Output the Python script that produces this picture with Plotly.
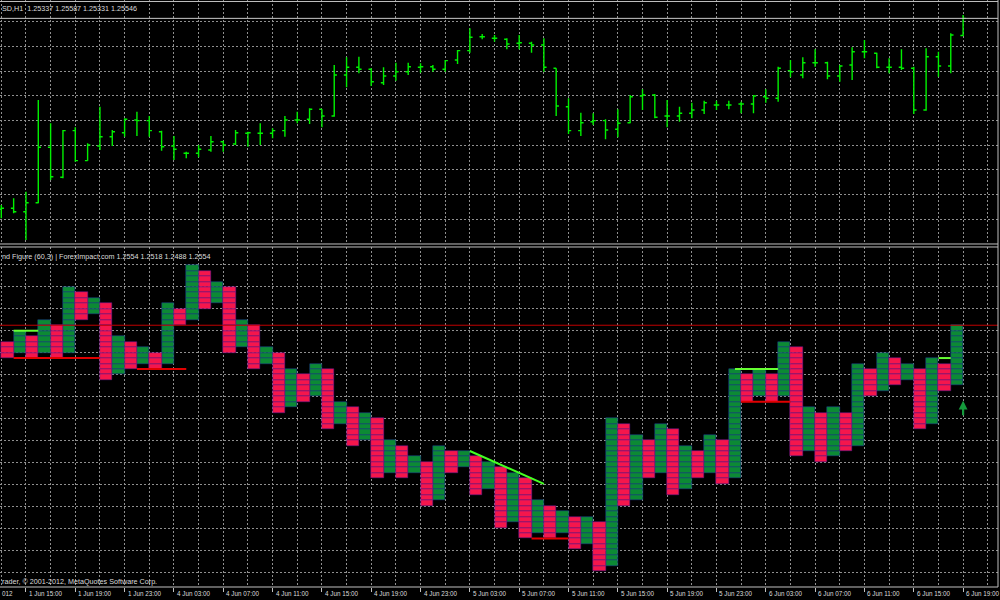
import plotly.graph_objects as go

# ---------------- data: EURUSD H1 bars (top panel) ----------------
days = [("1 Jun", 13, 23), ("4 Jun", 0, 23), ("5 Jun", 0, 23), ("6 Jun", 0, 19)]
bar_time = [f"{d} {h:02d}:00" for d, h0, h1 in days for h in range(h0, h1 + 1)]

bar_open = [1.23217,1.23229,1.23187,1.23297,1.23973,1.23607,1.24176,1.23810,1.23989,1.24102,
 1.24151,1.24306,1.24298,1.24163,1.23989,1.23900,1.23900,1.23940,1.24041,1.24013,
 1.24144,1.24144,1.24144,1.24176,1.24306,1.24315,1.24437,1.24355,1.24855,1.24949,
 1.24925,1.24761,1.24843,1.24895,1.24949,1.24956,1.24925,1.25038,1.25152,1.25322,
 1.25303,1.25291,1.25242,1.25242,1.25221,1.24937,1.24468,1.24176,1.24285,1.24298,
 1.24193,1.24273,1.24599,1.24611,1.24355,1.24355,1.24388,1.24428,1.24489,1.24489,
 1.24501,1.24501,1.24590,1.24571,1.24908,1.24855,1.25005,1.25005,1.24843,1.24977,
 1.25139,1.25120,1.24949,1.24949,1.24937,1.24428,1.25078,1.24965,1.25337]
bar_high = [1.23269,1.23351,1.23431,1.24550,1.24266,1.24184,1.24217,1.24022,1.24468,1.24184,
 1.24327,1.24407,1.24355,1.24176,1.24111,1.23919,1.24001,1.24111,1.24054,1.24184,
 1.24163,1.24266,1.24205,1.24355,1.24407,1.24449,1.24437,1.24977,1.25071,1.25078,
 1.24937,1.24949,1.25005,1.25005,1.24998,1.24977,1.25038,1.25160,1.25425,1.25355,
 1.25343,1.25303,1.25343,1.25261,1.25303,1.24937,1.24571,1.24395,1.24388,1.24315,
 1.24437,1.24611,1.24681,1.24623,1.24550,1.24468,1.24517,1.24542,1.24542,1.24542,
 1.24529,1.24611,1.24681,1.24956,1.25038,1.25071,1.25169,1.25017,1.24977,1.25193,
 1.25282,1.25127,1.25059,1.25169,1.24956,1.25181,1.25139,1.25364,1.25587]
bar_low = [1.23107,1.23168,1.22842,1.23290,1.23574,1.23595,1.23797,1.23810,1.23940,1.23989,
 1.24102,1.24111,1.24102,1.23932,1.23818,1.23839,1.23851,1.23919,1.23919,1.24001,
 1.23980,1.24001,1.24083,1.24102,1.24266,1.24257,1.24217,1.24346,1.24705,1.24876,
 1.24721,1.24733,1.24786,1.24855,1.24883,1.24895,1.24895,1.24989,1.25127,1.25291,
 1.25261,1.25169,1.25169,1.25127,1.24895,1.24355,1.24135,1.24111,1.24245,1.24071,
 1.24095,1.24266,1.24428,1.24327,1.24217,1.24285,1.24327,1.24379,1.24428,1.24437,
 1.24388,1.24388,1.24517,1.24529,1.24827,1.24815,1.24956,1.24803,1.24773,1.24794,
 1.25059,1.24937,1.24876,1.24916,1.24379,1.24420,1.24834,1.24876,1.25331]
bar_close = [1.23229,1.23187,1.23297,1.23973,1.23614,1.24176,1.23810,1.24001,1.24102,1.24163,
 1.24315,1.24298,1.24176,1.23980,1.23949,1.23900,1.23949,1.24041,1.24001,1.24151,
 1.24151,1.24144,1.24176,1.24306,1.24306,1.24437,1.24355,1.24855,1.24949,1.24925,
 1.24773,1.24843,1.24895,1.24956,1.24956,1.24925,1.25030,1.25152,1.25315,1.25322,
 1.25303,1.25233,1.25249,1.25221,1.24949,1.24477,1.24176,1.24273,1.24298,1.24184,
 1.24266,1.24590,1.24611,1.24339,1.24355,1.24388,1.24428,1.24517,1.24489,1.24489,
 1.24501,1.24599,1.24571,1.24937,1.24895,1.25005,1.25005,1.24843,1.24965,1.25139,
 1.25139,1.24949,1.24949,1.24937,1.24428,1.25078,1.24965,1.25343,1.25546]
bid_price = 1.25546

# ---------------- data: Point & Figure (60,3) columns (bottom panel) ----------------
BOX = 0.0005
pnf_first = "O"   # first column is a column of O (falling), then alternating
pnf_high = [1.2539,1.2549,1.2544,1.2559,1.2554,1.2589,1.2584,1.2579,1.2574,1.2544,
 1.2539,1.2534,1.2529,1.2574,1.2569,1.2609,1.2604,1.2594,1.2589,1.2559,
 1.2554,1.2534,1.2529,1.2514,1.2509,1.2519,1.2514,1.2484,1.2479,1.2474,
 1.2469,1.2449,1.2444,1.2434,1.2429,1.2444,1.2439,1.2439,1.2434,1.2429,
 1.2424,1.2419,1.2414,1.2394,1.2389,1.2384,1.2379,1.2379,1.2374,1.2469,
 1.2464,1.2454,1.2449,1.2464,1.2459,1.2444,1.2439,1.2454,1.2449,1.2514,
 1.2509,1.2514,1.2509,1.2539,1.2534,1.2479,1.2474,1.2479,1.2474,1.2519,
 1.2514,1.2529,1.2524,1.2519,1.2514,1.2524,1.2519,1.2554]
pnf_low = [1.2524,1.2529,1.2524,1.2529,1.2524,1.2529,1.2559,1.2564,1.2504,1.2509,
 1.2514,1.2519,1.2514,1.2519,1.2554,1.2559,1.2569,1.2574,1.2529,1.2534,
 1.2514,1.2519,1.2474,1.2479,1.2484,1.2489,1.2459,1.2464,1.2444,1.2449,
 1.2414,1.2419,1.2414,1.2419,1.2389,1.2394,1.2419,1.2424,1.2399,1.2404,
 1.2369,1.2374,1.2359,1.2364,1.2359,1.2364,1.2349,1.2354,1.2329,1.2334,
 1.2389,1.2394,1.2414,1.2419,1.2399,1.2404,1.2414,1.2419,1.2409,1.2414,
 1.2484,1.2489,1.2484,1.2489,1.2434,1.2439,1.2429,1.2434,1.2439,1.2444,
 1.2489,1.2494,1.2499,1.2504,1.2459,1.2464,1.2494,1.2499]
pnf_price = 1.2554

# support / resistance levels drawn by the indicator (column from, column to, price)
resist_x0 = [1, 59.5, 76]
resist_x1 = [3, 63, 77]
resist_p = [1.2549, 1.2514, 1.2524]
support_x0 = [1, 11, 43, 60]
support_x1 = [8, 15, 46, 64]
support_p = [1.2524, 1.2514, 1.2359, 1.2484]
trend_x = [38, 44]
trend_p = [1.2439, 1.2409]
signal_x = 78
signal_p = 1.2485

header_top = "SD,H1  1.25337 1.25587 1.25331 1.25546"
header_bottom = "nd Figure (60,3) | ForexImpact.com 1.2554 1.2518 1.2488 1.2554"
copyright_txt = "rader, © 2001-2012, MetaQuotes Software Corp."

# ---------------- figure ----------------
BG = "#000000"
GRID = "#8f8f8f"
FG = "#dcdcdc"
FONT = "Liberation Sans"

fig = go.Figure()
xs = list(range(len(bar_time)))
fig.add_trace(go.Ohlc(
    x=xs, open=bar_open, high=bar_high, low=bar_low, close=bar_close,
    increasing=dict(line=dict(color="#00f000", width=1.4)),
    decreasing=dict(line=dict(color="#00f000", width=1.4)),
    tickwidth=0.22, xaxis="x", yaxis="y", showlegend=False, hoverinfo="skip"))

# P&F boxes
gx, gb, rx, rb = [], [], [], []
for j, (hi, lo) in enumerate(zip(pnf_high, pnf_low)):
    is_x = (j % 2 == 1) if pnf_first == "O" else (j % 2 == 0)
    n = round((hi - lo) / BOX)
    for k in range(n):
        if is_x:
            gx.append(j + 0.5); gb.append(lo + k * BOX)
        else:
            rx.append(j + 0.5); rb.append(lo + k * BOX)

fig.add_trace(go.Bar(x=gx, base=gb, y=[BOX] * len(gx), width=1.0,
                     marker=dict(color="#0c8a34", line=dict(color="#1e3a9a", width=0.5)),
                     xaxis="x2", yaxis="y2", showlegend=False, hoverinfo="skip"))
fig.add_trace(go.Bar(x=rx, base=rb, y=[BOX] * len(rx), width=1.0,
                     marker=dict(color="#f5164c", line=dict(color="#5a1a9a", width=0.5)),
                     xaxis="x2", yaxis="y2", showlegend=False, hoverinfo="skip"))

for a, b, p in zip(support_x0, support_x1, support_p):
    fig.add_trace(go.Scatter(x=[a, b], y=[p, p], mode="lines",
                             line=dict(color="#e00000", width=2),
                             xaxis="x2", yaxis="y2", showlegend=False, hoverinfo="skip"))
for a, b, p in zip(resist_x0, resist_x1, resist_p):
    fig.add_trace(go.Scatter(x=[a, b], y=[p, p], mode="lines",
                             line=dict(color="#66ff33", width=2),
                             xaxis="x2", yaxis="y2", showlegend=False, hoverinfo="skip"))
fig.add_trace(go.Scatter(x=trend_x, y=trend_p, mode="lines",
                         line=dict(color="#44ff22", width=2),
                         xaxis="x2", yaxis="y2", showlegend=False, hoverinfo="skip"))

XR = [-0.105, 80.83]
label_idx = [i for i in range(2, len(bar_time), 4)]
common_x = dict(range=XR, showticklabels=False, zeroline=False, showline=False,
                fixedrange=True)
fig.update_layout(
    width=1000, height=600, margin=dict(l=0, r=2, t=0, b=13),
    paper_bgcolor=BG, plot_bgcolor=BG, barmode="overlay", bargap=0,
    font=dict(family=FONT, size=7, color=FG),
    xaxis=dict(**common_x, anchor="y", domain=[0, 1], tickmode="linear", tick0=0, dtick=2,
               showgrid=True, gridcolor=GRID, griddash="2px,2px", gridwidth=1, ticks="",
               rangeslider=dict(visible=False)),
    xaxis2=dict(**common_x, anchor="y2", domain=[0, 1], tickmode="array", tickvals=label_idx,
                ticks="outside", ticklen=4, tickcolor="#c0c0c0", tickwidth=1,
                showgrid=True, gridcolor=GRID, griddash="2px,2px", gridwidth=1,
                minor=dict(tickmode="linear", tick0=0, dtick=2, showgrid=True,
                           gridcolor=GRID, griddash="2px,2px", gridwidth=1, ticks="")),
    yaxis=dict(domain=[0.58433, 1], range=[1.227932, 1.2577], tickmode="linear",
               tick0=1.25505, dtick=0.003013, showgrid=True, gridcolor=GRID,
               griddash="2px,2px", showticklabels=False, zeroline=False, fixedrange=True),
    yaxis2=dict(domain=[0, 0.57922], range=[1.231463, 1.262556], tickmode="linear",
                tick0=1.26100, dtick=0.0020183, showgrid=True, gridcolor=GRID,
                griddash="2px,2px", showticklabels=False, zeroline=False, fixedrange=True),
)

# bid line (top) and current P&F price line (bottom)
fig.add_shape(type="line", xref="paper", x0=0, x1=1, yref="y", y0=bid_price, y1=bid_price,
              line=dict(color="#c8c8c8", width=1))
fig.add_shape(type="line", xref="paper", x0=0, x1=1, yref="y2", y0=pnf_price, y1=pnf_price,
              line=dict(color="#c00000", width=1))
# window frame lines
for yp in [0.99745, 0.58433, 0.57922, 0.0]:
    fig.add_shape(type="line", xref="paper", yref="paper", x0=0, x1=1, y0=yp, y1=yp,
                  line=dict(color="#c0c0c0", width=1))
fig.add_shape(type="line", xref="paper", yref="paper", x0=1, x1=1, y0=0, y1=1,
              line=dict(color="#c0c0c0", width=1))

# buy signal arrow
fig.add_annotation(x=signal_x, y=signal_p, xref="x2", yref="y2", text="", showarrow=True,
                   ax=0, ay=16, arrowhead=2, arrowsize=0.8, arrowwidth=2.2,
                   arrowcolor="#159a3c")

# texts
HDR = dict(size=7.2, color=FG)
fig.add_annotation(x=0, y=(587 - 8) / 587, xref="paper", yref="paper", text=header_top,
                   showarrow=False, xanchor="left", yanchor="middle", font=HDR)
fig.add_annotation(x=0, y=(587 - 256) / 587, xref="paper", yref="paper", text=header_bottom,
                   showarrow=False, xanchor="left", yanchor="middle", font=HDR)
fig.add_annotation(x=0, y=(587 - 581) / 587, xref="paper", yref="paper", text=copyright_txt,
                   showarrow=False, xanchor="left", yanchor="middle", font=HDR)
AX = dict(size=6.3, color=FG)
fig.add_annotation(x=0, y=-7 / 587, xref="paper", yref="paper", text="012",
                   showarrow=False, xanchor="left", yanchor="middle", font=AX)
for i in label_idx:
    fig.add_annotation(x=i, y=-7 / 587, xref="x2", yref="paper", text=bar_time[i],
                       showarrow=False, xanchor="left", yanchor="middle", xshift=1,
                       font=AX)

fig.write_html("out.html", config={"displayModeBar": False},
               post_script="document.body.style.margin='0';document.body.style.padding='0';"
                           "document.body.style.overflow='hidden';")
